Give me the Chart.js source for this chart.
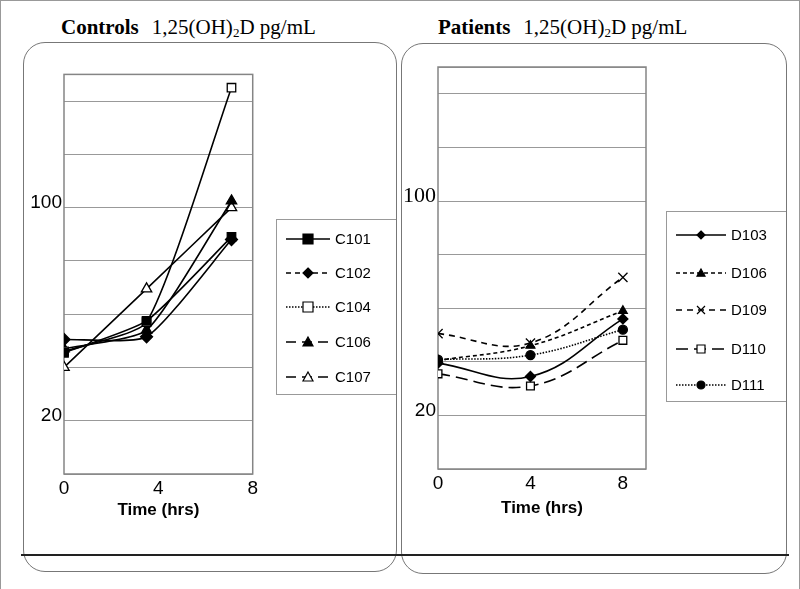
<!DOCTYPE html>
<html>
<head>
<meta charset="utf-8">
<script src="https://cdn.jsdelivr.net/npm/chart.js@4.4.1/dist/chart.umd.min.js"></script>
<style>
  body { margin: 0; background: #fff; }
  #page { position: relative; width: 800px; height: 589px; overflow: hidden; box-sizing: border-box;
          border-left: 1px solid #999; border-top: 1px solid #999; border-right: 1px solid #999; }
  .panel { position: absolute; border: 1px solid #777; border-radius: 22px; }
  .title { position: absolute; top: 14px; font-family: "Liberation Serif", serif; font-size: 21px; white-space: nowrap; }
  .title b { margin-right: 13px; }
  .title sub { font-size: 13px; vertical-align: -3px; line-height: 0; }
  .legend { position: absolute; border: 1px solid #999; border-right: none; background: #fff; }
  .legend div { position: absolute; left: 9px; height: 20px; font-family: "Liberation Sans", Arial, sans-serif;
                font-size: 15px; line-height: 20px; white-space: nowrap; }
  .legend canvas { vertical-align: top; margin-right: 5px; }
  canvas.chart { position: absolute; }
  #rule { position: absolute; left: 20px; top: 553px; width: 768px; height: 2px; background: #222; }
</style>
</head>
<body>
<div id="page">
  <div class="panel" style="left:22px;top:41px;width:372px;height:528px"></div>
  <div class="panel" style="left:400px;top:42px;width:384px;height:529px"></div>
  <div class="title" style="left:60px"><b>Controls</b>1,25(OH)<sub>2</sub>D pg/mL</div>
  <div class="title" style="left:437px"><b>Patients</b>1,25(OH)<sub>2</sub>D pg/mL</div>
  <canvas id="ctrlChart" class="chart" style="left:20px;top:60px" width="240" height="470"></canvas>
  <canvas id="patChart" class="chart" style="left:398px;top:50px" width="260" height="480"></canvas>
  <div id="ctrlLegend" class="legend" style="left:275px;top:218px;width:119px;height:174px"></div>
  <div id="patLegend" class="legend" style="left:665px;top:210px;width:119px;height:189px"></div>
  <div id="rule"></div>
</div>
<script>
// Controls (hours after dose)
const ctrlTimes = [0, 3.5, 7.1];
const ctrlNames = ["C101", "C102", "C104", "C106", "C107"];
const c101 = [45.5, 57.5, 89];
const c102 = [50.5, 51.5, 88];
const c104 = [46, 57, 145];
const c106 = [47, 54, 102.5];
const c107 = [40, 69.5, 100];

// Patients
const patTimes = [0, 4, 8];
const patNames = ["D103", "D106", "D109", "D110", "D111"];
const d103 = [39.5, 34.5, 56];
const d106 = [40.5, 46, 59];
const d109 = [50.5, 47, 71.5];
const d110 = [35.5, 31, 48];
const d111 = [40.8, 42.5, 52];

const yTickLabels = [20, 100];
const xTickLabels = [0, 4, 8];

// marker + dash styles
const ctrlStyles = [
  { point: "rect", fill: true, radius: 6, legendDash: [] },
  { point: "rectRot", fill: true, radius: 6, legendDash: [5, 4] },
  { point: "rect", fill: false, radius: 6, legendDash: [1.5, 1.5] },
  { point: "triangle", fill: true, radius: 6, legendDash: [10, 6] },
  { point: "triangle", fill: false, radius: 6, legendDash: [10, 6] }
];
const patStyles = [
  { point: "rectRot", fill: true, radius: 5, dash: [] },
  { point: "triangle", fill: true, radius: 5, dash: [4, 3] },
  { point: "crossRot", fill: false, radius: 6.5, dash: [6, 5] },
  { point: "rect", fill: false, radius: 5.5, dash: [12, 6] },
  { point: "circle", fill: true, radius: 4.5, dash: [1.5, 1.5] }
];

function pairs(xs, ys) {
  return ys.map((y, i) => ({ x: xs[i], y: y }));
}

//frame round the plot area
const frame = {
  id: "frame",
  beforeDatasetsDraw(chart) {
    const a = chart.chartArea, c = chart.ctx;
    c.save();
    c.strokeStyle = "#858585";
    c.lineWidth = 1.5;
    c.strokeRect(a.left, a.top, a.right - a.left, a.bottom - a.top);
    c.restore();
  }
};

function makeChart(id, datasets, xMax, opts) {
  return new Chart(document.getElementById(id), {
    type: "line",
    data: { datasets: datasets },
    plugins: [frame],
    options: {
      responsive: false,
      animation: false,
      devicePixelRatio: 1,
      layout: { padding: { top: opts.padTop, right: opts.padRight, left: 0, bottom: opts.padBottom } },
      plugins: { legend: { display: false }, tooltip: { enabled: false } },
      scales: {
        x: {
          type: "linear",
          min: 0,
          max: xMax,
          afterFit: (s) => { s.height = opts.xHeight; },
          grid: { display: false, drawTicks: false },
          border: { display: false },
          ticks: {
            stepSize: 4,
            padding: 3,
            color: "#000",
            font: { family: "Liberation Sans", size: 19 },
            callback: (v) => xTickLabels.includes(v) ? String(v) : ""
          },
          title: {
            display: true,
            text: "Time (hrs)",
            color: "#000",
            font: { family: "Liberation Sans", size: 17, weight: "bold" },
            padding: { top: 0, bottom: 0 }
          }
        },
        y: {
          min: 0,
          max: 150,
          afterFit: (s) => { s.width = opts.yWidth; },
          grid: { color: "#999", lineWidth: 1, drawTicks: false },
          border: { display: false },
          ticks: {
            stepSize: 20,
            padding: 2,
            labelOffset: -5,
            autoSkip: false,
            color: "#000",
            font: (c) => (opts.serif100 && c.tick && c.tick.value === 100)
              ? { family: "Liberation Serif", size: 22 }
              : { family: "Liberation Sans", size: 19 },
            callback: (v) => yTickLabels.includes(v) ? String(v) : ""
          }
        }
      }
    }
  });
}

const ctrlData = [c101, c102, c104, c106, c107];
const ctrlSets = ctrlData.map((vals, i) => ({
  label: ctrlNames[i],
  data: pairs(ctrlTimes, vals),
  borderColor: "#000",
  borderWidth: 1.6,
  tension: 0.18,
  pointStyle: ctrlStyles[i].point,
  pointRadius: ctrlStyles[i].radius,
  pointBorderWidth: 1.3,
  pointBorderColor: "#000",
  pointBackgroundColor: ctrlStyles[i].fill ? "#000" : "#fff"
}));

const patData = [d103, d106, d109, d110, d111];
const patSets = patData.map((vals, i) => ({
  label: patNames[i],
  data: pairs(patTimes, vals),
  borderColor: "#000",
  borderWidth: 1.6,
  borderDash: patStyles[i].dash,
  tension: 0.4,
  pointStyle: patStyles[i].point,
  pointRadius: patStyles[i].radius,
  pointBorderWidth: 1.3,
  pointBorderColor: "#000",
  pointBackgroundColor: patStyles[i].fill ? "#000" : "#fff"
}));

makeChart("ctrlChart", ctrlSets, 8, { padTop: 13, padRight: 7, padBottom: 10, yWidth: 43, xHeight: 47, serif100: false });
makeChart("patChart", patSets, 9, { padTop: 16, padRight: 13, padBottom: 12, yWidth: 39, xHeight: 50, serif100: true });

function drawMarker(c, style, x, y, r, fill) {
  c.beginPath();
  if (style === "rect") c.rect(x - r, y - r, 2 * r, 2 * r);
  else if (style === "rectRot") { c.moveTo(x, y - r); c.lineTo(x + r, y); c.lineTo(x, y + r); c.lineTo(x - r, y); c.closePath(); }
  else if (style === "triangle") { c.moveTo(x, y - r); c.lineTo(x + r, y + r * 0.8); c.lineTo(x - r, y + r * 0.8); c.closePath(); }
  else if (style === "circle") c.arc(x, y, r, 0, Math.PI * 2);
  else if (style === "crossRot") { c.moveTo(x - r, y - r); c.lineTo(x + r, y + r); c.moveTo(x + r, y - r); c.lineTo(x - r, y + r); }
  if (style !== "crossRot") { c.fillStyle = fill ? "#000" : "#fff"; c.fill(); }
  c.setLineDash([]);
  c.stroke();
}

function buildLegend(boxId, names, styles, rows, sampleW, radius) {
  const box = document.getElementById(boxId);
  names.forEach((name, i) => {
    const row = document.createElement("div");
    row.style.top = rows[i] + "px";
    const cv = document.createElement("canvas");
    cv.width = sampleW; cv.height = 20;
    const c = cv.getContext("2d");
    c.strokeStyle = "#000";
    c.lineWidth = 1.5;
    c.setLineDash(styles[i].legendDash || styles[i].dash);
    c.beginPath(); c.moveTo(0, 10); c.lineTo(sampleW, 10); c.stroke();
    c.lineWidth = 1.2;
    drawMarker(c, styles[i].point, sampleW / 2, 10, radius, styles[i].fill);
    row.appendChild(cv);
    row.appendChild(document.createTextNode(name));
    box.appendChild(row);
  });
}

buildLegend("ctrlLegend", ctrlNames, ctrlStyles, [9, 43, 77, 112, 147], 44, 5);
buildLegend("patLegend", patNames, patStyles, [13, 51, 88, 127, 163], 50, 4);
</script>
</body>
</html>
